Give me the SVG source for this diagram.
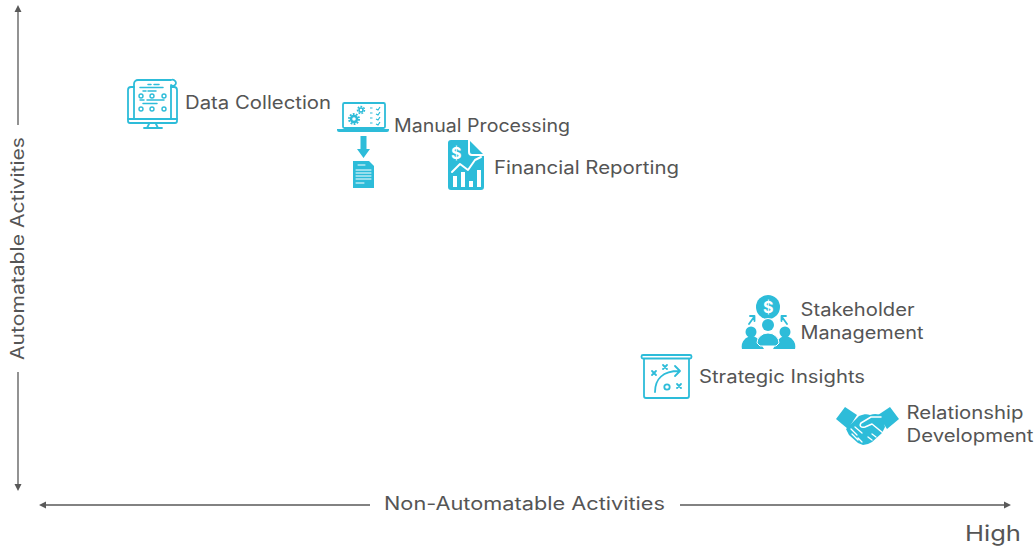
<svg xmlns="http://www.w3.org/2000/svg" width="1035" height="546" viewBox="0 0 1035 546">
<style>
text{font-family:"Inter","Liberation Sans",sans-serif;fill:#555;font-size:18px;font-weight:400}
.s{fill:none;stroke:#2dbcd9;stroke-width:1.800;stroke-linecap:round;stroke-linejoin:round}
.t{fill:none;stroke:#2dbcd9;stroke-width:1.400}
.f{fill:#2dbcd9}
.w{fill:#fff}
.wl{fill:none;stroke:#fff;stroke-width:1.600;stroke-linejoin:round;stroke-linecap:round}
.ax{stroke:#595959;stroke-width:1.300;fill:none}
.hd{fill:#595959}
.gear{fill:none;stroke:#2dbcd9;stroke-dasharray:1.800 1.300}
</style>
<rect width="1035" height="546" fill="#fff"/>
<g id="connectors">
<path class="ax" d="M18 10V125M18 372V486M44 505H370M680 505H1006"/>
<path class="hd" d="M18 5l3.500 7h-7zM18 491l3.500-7h-7zM39 505l7-3.500v7zM1011 505l-7-3.500v7z"/>
</g>
<g id="axis-y"><text transform="translate(24 360) rotate(-90)" textLength="223" lengthAdjust="spacingAndGlyphs">Automatable Activities</text></g>
<g id="axis-x"><text x="384" y="510" textLength="281" lengthAdjust="spacingAndGlyphs">Non-Automatable Activities</text></g>
<g id="high"><text x="965" y="541" style="font-size:22px" textLength="56" lengthAdjust="spacingAndGlyphs">High</text></g>
<g id="data-collection">
<path class="s" d="M134 87h-3a3 3 0 0 0-3 3v29h49V90a3 3 0 0 0-3-3h-3"/>
<path class="s" d="M134 119V84a4 4 0 0 1 4-4h33a3.500 3.500 0 0 1 5 3a3 3 0 0 1-5 2v34M128 119v2a2 2 0 0 0 2 2h45a2 2 0 0 0 2-2v-2M149 124l-2 4M156 124l2 4M144 128h18"/>
<path class="s" d="M148 84.500h3M154 84.500h5M140 87.500h23M143 91h3M148 91h8M140 100h4M147 100h17M143 103.500h14" style="stroke-width:1.500"/>
<g class="t"><circle cx="141" cy="96" r="2"/><circle cx="152" cy="96" r="2"/><circle cx="164" cy="96" r="2"/><circle cx="141" cy="109" r="2"/><circle cx="152" cy="109" r="2"/><circle cx="164" cy="109" r="2"/></g>
<text x="185" y="109" textLength="146" lengthAdjust="spacingAndGlyphs">Data Collection</text>
</g>
<g id="manual-processing">
<rect class="s" x="343" y="103" width="42" height="25" rx="1.500"/>
<path class="f" d="M337 129h52v1a2 2 0 0 1-2 2h-48a2 2 0 0 1-2-2z"/>
<circle class="t" cx="354" cy="119" r="3" style="stroke-width:2.400"/>
<circle class="gear" cx="354" cy="119" r="5" style="stroke-width:2"/>
<circle class="t" cx="361" cy="110" r="2" style="stroke-width:1.600"/>
<circle class="gear" cx="361" cy="110" r="3.500" style="stroke-width:1.500"/>
<path class="t" d="M370 108h2.500M370 113h2.500M370 118h2.500M370 123h2.500M376 109l2 1 2-3M376 114l2 1 2-3M376 119l2 1 2-3M376 124l2 1 2-3" style="stroke-width:1.200"/>
<path class="f" d="M360.500 136h6v13h3.500v0h0l-6.500 9-6.500-9h3.500z"/>
<path class="f" d="M353 161h16l5 5v22h-21z"/>
<path class="wl" d="M358 165h7M356 170h15M356 173h15M356 176h15M356 179h15M356 183h8" style="stroke-width:1"/>
<text x="394" y="132" textLength="176" lengthAdjust="spacingAndGlyphs">Manual Processing</text>
</g>
<g id="financial-reporting">
<path class="f" d="M451 140h17v12a4 4 0 0 0 4 4h12v31a3 3 0 0 1-3 3h-30a3 3 0 0 1-3-3v-44a3 3 0 0 1 3-3z"/>
<path class="f" d="M470 141l13 13h-11a2 2 0 0 1-2-2z"/>
<path class="wl" d="M452 172l8-8 8 6 7-10 6-3" style="stroke-width:2"/>
<path class="w" d="M453 176h4v11h-4zM461 172h4v15h-4zM469 181h4v6h-4zM477 170h4v17h-4z"/>
<text x="451" y="159" style="font-size:16px;font-weight:700;fill:#fff">$</text>
<text x="494" y="174" textLength="185" lengthAdjust="spacingAndGlyphs">Financial Reporting</text>
</g>
<g id="stakeholder-management">
<circle class="f" cx="768" cy="307" r="12"/>
<text x="763" y="313" style="font-size:16px;font-weight:700;fill:#fff">$</text>
<path class="s" d="M749 324l5-7M750 316h4.500v5M787 324l-5-7M786 316h-4.500v5"/>
<circle class="f" cx="751" cy="332" r="5.500"/>
<circle class="f" cx="785" cy="332" r="5.500"/>
<path class="f" d="M742 349a9.500 10 0 0 1 19-5l3 5zM795 349a9.500 10 0 0 0-19-5l-3 5z"/>
<circle class="w" cx="768" cy="325" r="7"/>
<circle class="f" cx="768" cy="325" r="6"/>
<path class="f" d="M757 343a11 10 0 0 1 22 0l-3 3h-16z" stroke="#fff" stroke-width="1"/>
<text x="800.500" y="316" textLength="114" lengthAdjust="spacingAndGlyphs">Stakeholder</text>
<text x="800.500" y="339" textLength="123" lengthAdjust="spacingAndGlyphs">Management</text>
</g>
<g id="strategic-insights">
<rect class="s" x="641.500" y="355" width="50" height="3.500" rx="1.500"/>
<path class="s" d="M644 359v37a2 2 0 0 0 2 2h41a2 2 0 0 0 2-2v-37"/>
<path class="s" d="M655 392c0-13 8-21 24-21M675 366l5 5-5 5M652 371l4 4M656 371l-4 4M663 365l4 4M667 365l-4 4M677 384l4 4M681 384l-4 4"/>
<circle class="s" cx="667" cy="387" r="2.700"/>
<text x="699" y="383" textLength="166" lengthAdjust="spacingAndGlyphs">Strategic Insights</text>
</g>
<g id="relationship-development">
<path class="f" d="M836 419l9-12 12 8-9 14zM899 419l-9-12-12 8 9 14z"/>
<path class="f" d="M859 416c5-2 8-2 11-1 5-2 9-1 12 1l3 11-3 6-10 9-4 2-5 1-5-2-9-8-3-6z"/>
<path class="wl" d="M881 417h-10l-10 6c-2 3 0 5 4 4l7-3 11 9" style="stroke-width:1.500"/>
<path class="wl" d="M872 434l4 3M868 437l4 3" style="stroke-width:1.300"/>
<path class="wl" d="M851 429l6 6M855 427l7 6M852 434l6 6M858 438l4 4" style="stroke-width:1.300"/>
<text x="906.500" y="419" textLength="117" lengthAdjust="spacingAndGlyphs">Relationship</text>
<text x="906.500" y="442" textLength="127" lengthAdjust="spacingAndGlyphs">Development</text>
</g>
</svg>
